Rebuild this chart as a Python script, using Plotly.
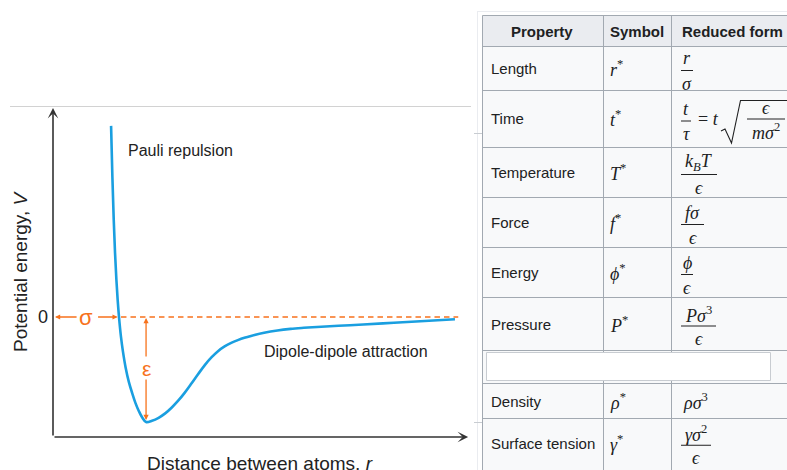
import plotly.graph_objects as go

W, H = 787, 470

# ---------------- data: potential curve ----------------
# r in units of sigma, V in units of epsilon
r_vals = [0.88, 0.90, 0.92, 0.94, 0.96, 0.98, 1.00, 1.03, 1.06, 1.10, 1.15, 1.20, 1.25, 1.30,
          1.35, 1.41, 1.50, 1.60, 1.70, 1.80, 1.90, 2.00, 2.10, 2.20, 2.30, 2.40, 2.50, 2.60,
          2.70, 2.80, 2.90, 3.00, 3.20, 3.40, 3.60, 3.80, 4.00, 4.50, 5.00, 5.50, 6.09]
v_vals = [1.82, 1.33, 0.93, 0.61, 0.36, 0.16, 0.00, -0.19, -0.33, -0.48, -0.62, -0.725, -0.82, -0.895,
          -0.955, -1.00, -0.988, -0.960, -0.918, -0.862, -0.795, -0.718, -0.632, -0.543, -0.458, -0.385,
          -0.325, -0.280, -0.246, -0.220, -0.198, -0.180, -0.150, -0.128, -0.113, -0.103, -0.095,
          -0.078, -0.061, -0.043, -0.022]

sigma = 1.0          # zero crossing of the potential
epsilon = 1.0        # depth of the well
r_min = 1.41         # position of the minimum
r_axis_end = 6.29
v_axis_bottom = -1.143
v_axis_top = 1.99
r_dash_end = 6.14

zero_label = "0"
x_title = "Distance between atoms, <i>r</i>"
y_title = "Potential energy, <i>V</i>"
repulsion_label = "Pauli repulsion"
attraction_label = "Dipole-dipole attraction"
sigma_label = "σ"
epsilon_label = "ε"

# ---------------- data: reduced units table ----------------
headers = ["Property", "Symbol", "Reduced form"]
properties = ["Length", "Time", "Temperature", "Force", "Energy", "Pressure", "", "Density", "Surface tension"]
symbols = ["r", "t", "T", "f", "ϕ", "P", "", "ρ", "γ"]
numerators = ["<i>r</i>", "<i>t</i>", "<i>k</i><sub><i>B</i></sub><i>T</i>", "<i>fσ</i>", "<i>ϕ</i>",
              "<i>Pσ</i><sup>3</sup>", "", "<i>ρσ</i><sup>3</sup>", "<i>γσ</i><sup>2</sup>"]
denominators = ["<i>σ</i>", "<i>τ</i>", "<i>ϵ</i>", "<i>ϵ</i>", "<i>ϵ</i>", "<i>ϵ</i>", "", "", "<i>ϵ</i>"]
time_extra = "= <i>t</i>"
time_root_num = "<i>ϵ</i>"
time_root_den = "<i>mσ</i><sup>2</sup>"

# ---------------- layout constants ----------------
X0_PX, PX_PER_R = 53, 66
Y0_PX, PX_PER_V = 317, 105
x_range = [(0 - X0_PX) / PX_PER_R, (W - X0_PX) / PX_PER_R]
y_range = [(Y0_PX - H) / PX_PER_V, Y0_PX / PX_PER_V]

ORANGE = "#f7721c"
BLUE = "#1a9fe0"
AXIS = "#333333"
TXT = "#202122"
SANS = "Liberation Sans, Arial, sans-serif"
SERIF = "Liberation Serif, DejaVu Serif, serif"


def PX(x):
    return x / W


def PY(y):
    return 1 - y / H


def label(x, y, text, size, family=SANS, color=TXT, xanchor="center", **kw):
    d = dict(x=PX(x), y=PY(y), xref="paper", yref="paper", text=text, showarrow=False,
             xanchor=xanchor, yanchor="middle", font=dict(family=family, size=size, color=color))
    d.update(kw)
    return d


def arrow(x, y, ax, ay, color, head, size, width):
    return dict(x=x, y=y, ax=ax, ay=ay, xref="x", yref="y", axref="x", ayref="y", text="",
                showarrow=True, arrowhead=head, arrowsize=size, arrowwidth=width, arrowcolor=color)


fig = go.Figure()
fig.add_trace(go.Scatter(x=r_vals, y=v_vals, mode="lines",
                         line=dict(color=BLUE, width=2.6, shape="spline", smoothing=1.0),
                         hoverinfo="skip", showlegend=False))

shapes = []
ann = []

# dashed zero line
shapes.append(dict(type="line", xref="x", yref="y", layer="below", x0=sigma + 0.03, x1=r_dash_end,
                   y0=0, y1=0, line=dict(color=ORANGE, width=1.4, dash="5.5px,4px")))

# axes with arrows
ann.append(arrow(0, v_axis_top, 0, v_axis_bottom, AXIS, 3, 1.1, 1.6))
ann.append(arrow(r_axis_end, v_axis_bottom, 0, v_axis_bottom, AXIS, 3, 1.1, 1.6))

# sigma arrows
ann.append(arrow(0.03, 0, 0.38, 0, ORANGE, 2, 0.8, 1.3))
ann.append(arrow(sigma - 0.02, 0, 0.66, 0, ORANGE, 2, 0.8, 1.3))
ann.append(dict(x=0.5, y=0, xref="x", yref="y", text=sigma_label, showarrow=False, xanchor="center",
                yanchor="middle", font=dict(family=SANS, size=22, color=ORANGE)))
# epsilon arrows
ann.append(arrow(r_min, -0.01, r_min, -0.39, ORANGE, 2, 0.8, 1.3))
ann.append(arrow(r_min, -epsilon + 0.02, r_min, -0.58, ORANGE, 2, 0.8, 1.3))
ann.append(dict(x=r_min, y=-0.49, xref="x", yref="y", text=epsilon_label, showarrow=False,
                xanchor="center", yanchor="middle", font=dict(family=SANS, size=21, color=ORANGE)))

# chart texts
ann.append(label(43, 317, zero_label, 18, color="#222"))
ann.append(label(20, 272, y_title, 19, color="#222", textangle=-90))
ann.append(label(260, 463, x_title, 19, color="#222"))
ann.append(label(126, 150, repulsion_label, 16, color="#222", xanchor="left"))
ann.append(label(262, 351, attraction_label, 16, color="#222", xanchor="left"))

# page decoration: thin rule above the figure and small stubs
shapes.append(dict(type="line", xref="paper", yref="paper", x0=PX(10), x1=PX(471), y0=PY(106.5),
                   y1=PY(106.5), line=dict(color="#d2d2d2", width=1)))
shapes.append(dict(type="line", xref="paper", yref="paper", x0=PX(477.5), x1=PX(477.5), y0=PY(11),
                   y1=PY(471), line=dict(color="#eaecf0", width=1)))
shapes.append(dict(type="line", xref="paper", yref="paper", x0=PX(477), x1=PX(800), y0=PY(11.5),
                   y1=PY(11.5), line=dict(color="#eaecf0", width=1)))
for yy in (133.5, 422.5):
    shapes.append(dict(type="line", xref="paper", yref="paper", x0=PX(474), x1=PX(482), y0=PY(yy),
                       y1=PY(yy), line=dict(color="#c8ccd1", width=1)))

# ---------------- table ----------------
TBL_L, TBL_R = 482.5, 800
col_edges = [482.5, 603.5, 671.5]
row_edges = [15.5, 46.5, 90.5, 147.5, 197.5, 247.5, 297.5, 350.5, 383.5, 418.5, 468]
bar_widths = [12, 10, 36, 23, 12, 35, 0, 0, 30]
BORDER = "#a2a9b1"

shapes.append(dict(type="rect", xref="paper", yref="paper", x0=PX(TBL_L), x1=PX(TBL_R),
                   y0=PY(row_edges[0]), y1=PY(row_edges[1]), fillcolor="#eaecf0", line=dict(width=0)))
shapes.append(dict(type="rect", xref="paper", yref="paper", x0=PX(TBL_L), x1=PX(TBL_R),
                   y0=PY(row_edges[1]), y1=PY(480), fillcolor="#f8f9fa", line=dict(width=0)))
for yy in row_edges[:-1]:
    shapes.append(dict(type="line", xref="paper", yref="paper", x0=PX(TBL_L), x1=PX(TBL_R), y0=PY(yy),
                       y1=PY(yy), line=dict(color=BORDER, width=1)))
for xx in col_edges:
    shapes.append(dict(type="line", xref="paper", yref="paper", x0=PX(xx), x1=PX(xx),
                       y0=PY(row_edges[0]), y1=PY(480), line=dict(color=BORDER, width=1)))

# header
head_centers = [542, 637, 732]
for h, cx in zip(headers, head_centers):
    ann.append(label(cx, (row_edges[0] + row_edges[1]) / 2, "<b>" + h + "</b>", 15))

F_X = 681
for i, prop in enumerate(properties):
    top, bot = row_edges[i + 1], row_edges[i + 2]
    cy = (top + bot) / 2
    if prop:
        ann.append(label(489, cy, prop, 15, xanchor="left"))
    if symbols[i]:
        ann.append(label(608, cy, "<i>" + symbols[i] + "</i><sup>*</sup>", 18, family=SERIF,
                         xanchor="left"))
    if numerators[i] and denominators[i]:
        bw = bar_widths[i]
        by = cy + 2
        shapes.append(dict(type="line", xref="paper", yref="paper", x0=PX(F_X), x1=PX(F_X + bw),
                           y0=PY(by), y1=PY(by), line=dict(color=TXT, width=1)))
        ann.append(label(F_X + bw / 2, by - 12, numerators[i], 18, family=SERIF))
        ann.append(label(F_X + bw / 2, by + 13, denominators[i], 18, family=SERIF))
    elif numerators[i]:
        ann.append(label(F_X, cy, numerators[i], 18, family=SERIF, xanchor="left"))
    if prop == "Time":
        by = cy
        ann.append(label(696, by, time_extra, 18, family=SERIF, xanchor="left"))
        shapes.append(dict(type="path", xref="paper", yref="paper",
                           path="M %f %f L %f %f L %f %f L %f %f L %f %f" % (
                               PX(721), PY(by + 12), PX(725), PY(by + 10), PX(731.5), PY(by + 24),
                               PX(740.5), PY(by - 18.5), PX(800), PY(by - 18.5)),
                           line=dict(color=TXT, width=1.1)))
        shapes.append(dict(type="line", xref="paper", yref="paper", x0=PX(747), x1=PX(785),
                           y0=PY(by), y1=PY(by), line=dict(color=TXT, width=1)))
        ann.append(label(766, by - 11, time_root_num, 18, family=SERIF))
        ann.append(label(766, by + 13, time_root_den, 18, family=SERIF))

# overlay white box in the hidden row
shapes.append(dict(type="rect", xref="paper", yref="paper", x0=PX(486.5), x1=PX(770.5), y0=PY(352.5),
                   y1=PY(380.5), fillcolor="white", line=dict(color="#c8ccd1", width=1)))

fig.update_layout(
    width=W, height=H, margin=dict(l=0, r=0, t=0, b=0),
    paper_bgcolor="white", plot_bgcolor="rgba(0,0,0,0)",
    xaxis=dict(range=x_range, visible=False, fixedrange=True),
    yaxis=dict(range=y_range, visible=False, fixedrange=True),
    shapes=shapes, annotations=ann, showlegend=False,
)

fig.write_html("out.html", config={"displayModeBar": False},
               post_script="document.body.style.margin='0px';")
